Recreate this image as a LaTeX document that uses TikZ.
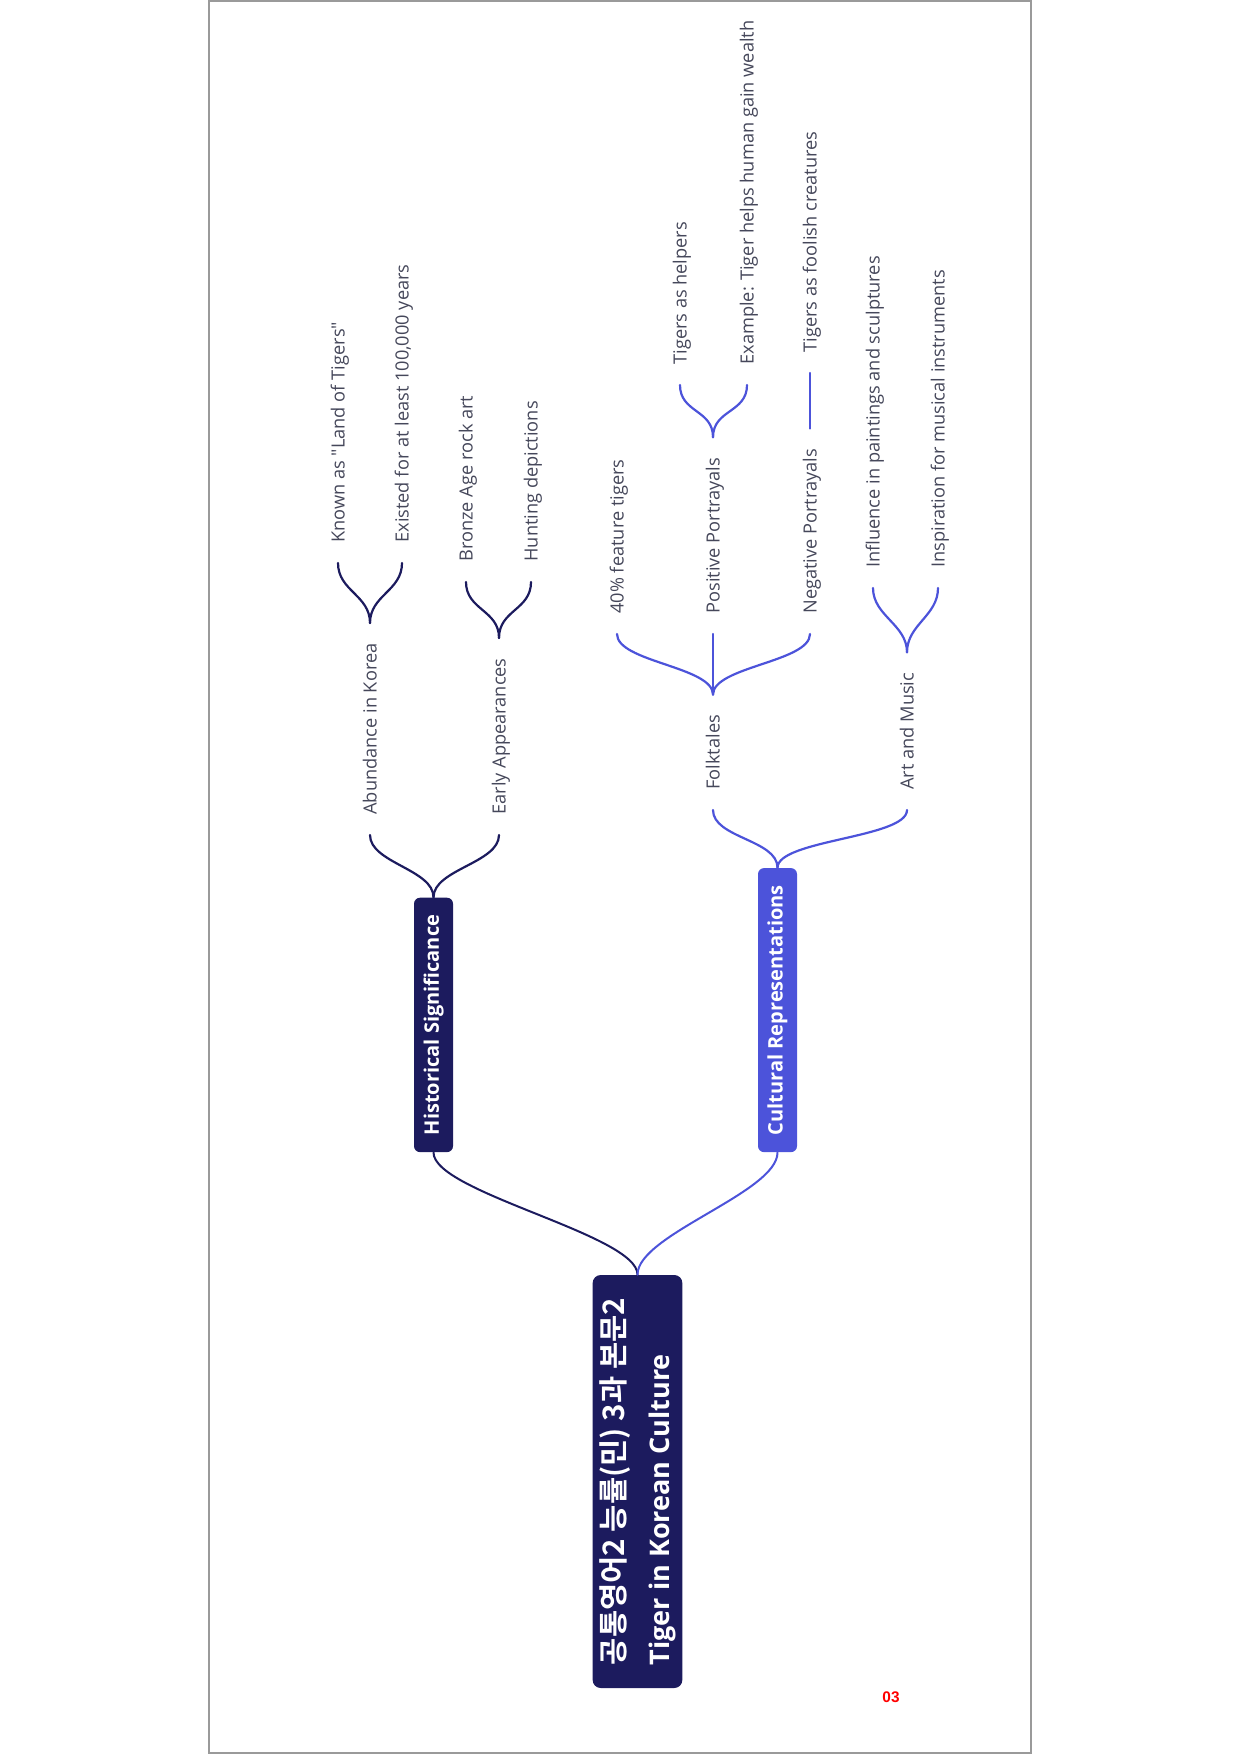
\documentclass[tikz,border=0pt]{standalone}
\usepackage{fontspec}
\setmainfont{Open Sans}
\newfontfamily\kofont{Noto Sans CJK KR}[BoldFont={Noto Sans CJK KR Bold}]
\newfontfamily\pagefont{Liberation Sans}

\definecolor{mapnavy}{HTML}{1C1B5E}
\definecolor{mapblue}{HTML}{4C53DA}
\definecolor{leafgray}{HTML}{45475A}
\definecolor{framegray}{HTML}{9A9A9A}

\begin{document}
\begin{tikzpicture}[x=0.5pt, y=-0.5pt,
  rootbox/.style={rotate=90, fill=mapnavy, text=white, rounded corners=4pt,
    font=\fontsize{13.5}{22.5}\selectfont\bfseries, align=left,
    minimum width=206.5pt, minimum height=44.5pt, inner xsep=10pt},
  branchbox/.style={rotate=90, anchor=west, text=white, rounded corners=3pt,
    font=\fontsize{10}{12}\selectfont\bfseries, minimum height=19.5pt,
    inner xsep=8.5pt, inner ysep=0pt},
  leaf/.style={rotate=90, anchor=west, text=leafgray,
    font=\fontsize{9.1}{11}\selectfont, text height=1.5ex, text depth=.25ex,
    inner xsep=10pt, inner ysep=1pt},
  link/.style={line width=1.1pt, line cap=round}]

% page frame
\useasboundingbox (0,0) rectangle (1240,1754);
\draw[framegray, line width=1pt] (209,1) rectangle (1031,1753);

% root
\node[rootbox] (root) at (637.5,1481.5) {{\kofont\fontsize{14.8}{22.5}\selectfont 공통영어2 능률(민) 3과 본문2}\\Tiger in Korean Culture};

% main branches
\node[branchbox, fill=mapnavy] (hist) at (433.5,1152.5) {Historical Significance};
\node[branchbox, fill=mapblue] (cult) at (777.5,1152.5) {Cultural Representations};
\draw[link, line width=1pt, mapnavy] (root.east) .. controls +(0,-40) and +(0,40) .. (hist.west);
\draw[link, line width=1pt, mapblue] (root.east) .. controls +(0,-40) and +(0,40) .. (cult.west);

% historical significance
\node[leaf] (abund) at (370,835) {Abundance in Korea};
\node[leaf] (early) at (499,835) {Early Appearances};
\draw[link, mapnavy] (hist.east) .. controls +(0,-28) and +(0,28) .. (abund.west);
\draw[link, mapnavy] (hist.east) .. controls +(0,-28) and +(0,28) .. (early.west);

\node[leaf] (known) at (338,563) {Known as \textquotedbl Land of Tigers\textquotedbl};
\node[leaf] (existed) at (402,563) {Existed for at least 100,000 years};
\draw[link, mapnavy] (abund.east) .. controls +(0,-28) and +(0,28) .. (known.west);
\draw[link, mapnavy] (abund.east) .. controls +(0,-28) and +(0,28) .. (existed.west);

\node[leaf] (bronze) at (466,582) {Bronze Age rock art};
\node[leaf] (hunting) at (531,582) {Hunting depictions};
\draw[link, mapnavy] (early.east) .. controls +(0,-28) and +(0,28) .. (bronze.west);
\draw[link, mapnavy] (early.east) .. controls +(0,-28) and +(0,28) .. (hunting.west);

% cultural representations
\node[leaf] (folk) at (713,810) {Folktales};
\node[leaf] (art) at (907,810) {Art and Music};
\draw[link, mapblue] (cult.east) .. controls +(0,-28) and +(0,28) .. (folk.west);
\draw[link, mapblue] (cult.east) .. controls +(0,-28) and +(0,28) .. (art.west);

\node[leaf] (share) at (617,634) {40\% feature tigers};
\node[leaf] (positive) at (713,634) {Positive Portrayals};
\node[leaf] (negative) at (810,634) {Negative Portrayals};
\draw[link, mapblue] (folk.east) .. controls +(0,-28) and +(0,28) .. (share.west);
\draw[link, mapblue] (folk.east) -- (positive.west);
\draw[link, mapblue] (folk.east) .. controls +(0,-28) and +(0,28) .. (negative.west);

\node[leaf] (helpers) at (680,385) {Tigers as helpers};
\node[leaf] (wealth) at (747,385) {Example: Tiger helps human gain wealth};
\draw[link, mapblue] (positive.east) .. controls +(0,-28) and +(0,28) .. (helpers.west);
\draw[link, mapblue] (positive.east) .. controls +(0,-28) and +(0,28) .. (wealth.west);

\node[leaf] (foolish) at (810,373) {Tigers as foolish creatures};
\draw[link, mapblue] (negative.east) -- (foolish.west);

\node[leaf] (paint) at (873,588) {Influence in paintings and sculptures};
\node[leaf] (instr) at (938,588) {Inspiration for musical instruments};
\draw[link, mapblue] (art.east) .. controls +(0,-28) and +(0,28) .. (paint.west);
\draw[link, mapblue] (art.east) .. controls +(0,-28) and +(0,28) .. (instr.west);

% page number
\node[font=\pagefont\bfseries\fontsize{7.7}{9}\selectfont, text=red, inner sep=0pt] (pageno) at (891,1697) {03};

\end{tikzpicture}
\end{document}
